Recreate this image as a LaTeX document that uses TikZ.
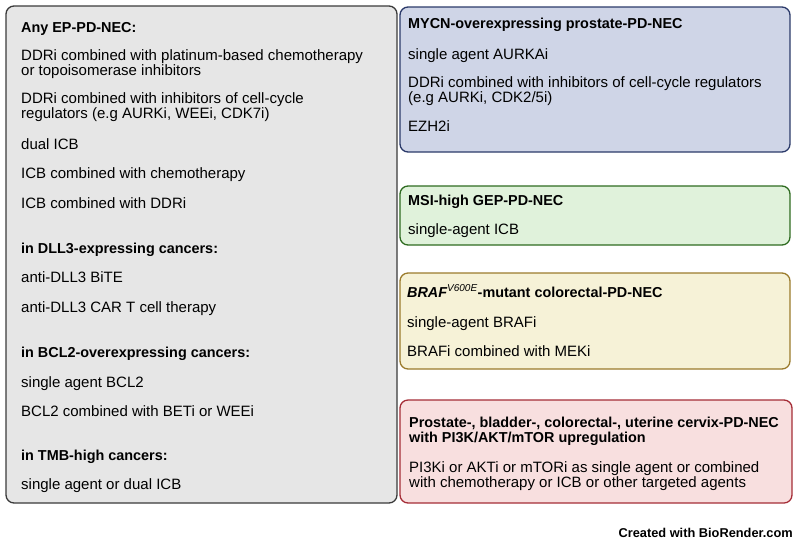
\documentclass[tikz,border=0pt]{standalone}
\usepackage{fontspec}
\setmainfont{Liberation Sans}
\definecolor{greyfill}{HTML}{E6E6E6}
\definecolor{greyline}{HTML}{3A3A3A}
\definecolor{bluefill}{HTML}{CFD5E7}
\definecolor{blueline}{HTML}{2B3A6A}
\definecolor{greenfill}{HTML}{E0F2DB}
\definecolor{greenline}{HTML}{2E6B20}
\definecolor{yellowfill}{HTML}{F6F2D7}
\definecolor{yellowline}{HTML}{9B7B2C}
\definecolor{redfill}{HTML}{F8DFDF}
\definecolor{redline}{HTML}{A52D37}
\begin{document}
\begin{tikzpicture}
[x=1pt,y=-1pt,
txt/.style={anchor=base west,inner sep=0pt,align=left,font=\fontsize{15}{15}\selectfont},
hd/.style={txt,font=\fontsize{14.4}{15}\selectfont\bfseries},
panel/.style={rounded corners=8pt,line width=1.3pt}]
\useasboundingbox (0,0) rectangle (800,542);
\filldraw[panel,draw=greyline,fill=greyfill] (6,6) rectangle (397,503);
\filldraw[panel,draw=blueline,fill=bluefill] (400,7) rectangle (790,152);
\filldraw[panel,draw=greenline,fill=greenfill] (400,186) rectangle (790,245);
\filldraw[panel,draw=yellowline,fill=yellowfill] (400,273) rectangle (790,369);
\filldraw[panel,draw=redline,fill=redfill] (400,400) rectangle (792,503);
\node[hd] (anyhd) at (21,32) {Any EP-PD-NEC:};
\node[txt] (ddriplat) at (21,75) {DDRi combined with platinum-based chemotherapy\\or topoisomerase inhibitors};
\node[txt] (ddricc) at (21,118) {DDRi combined with inhibitors of cell-cycle\\regulators (e.g AURKi, WEEi, CDK7i)};
\node[txt] (dualicb) at (21,149) {dual ICB};
\node[txt] (icbchemo) at (21,178) {ICB combined with chemotherapy};
\node[txt] (icbddri) at (21,208) {ICB combined with DDRi};
\node[hd] (dllhd) at (21,253) {in DLL3-expressing cancers:};
\node[txt] (bite) at (21,282) {anti-DLL3 BiTE};
\node[txt] (cart) at (21,312) {anti-DLL3 CAR T cell therapy};
\node[hd] (bclhd) at (21,357) {in BCL2-overexpressing cancers:};
\node[txt] (bclsingle) at (21,387) {single agent BCL2};
\node[txt] (bclcomb) at (21,416) {BCL2 combined with BETi or WEEi};
\node[hd] (tmbhd) at (21,460) {in TMB-high cancers:};
\node[txt] (tmbicb) at (21,489) {single agent or dual ICB};
\node[hd] (mycnhd) at (408,28) {MYCN-overexpressing prostate-PD-NEC};
\node[txt] (aurka) at (408,59) {single agent AURKAi};
\node[txt] (mycncc) at (408,102) {DDRi combined with inhibitors of cell-cycle regulators\\(e.g AURKi, CDK2/5i)};
\node[txt] (ezh) at (408,131) {EZH2i};
\node[hd] (msihd) at (408,205) {MSI-high GEP-PD-NEC};
\node[txt] (msiicb) at (408,234) {single-agent ICB};
\node[hd] (brafhd) at (407,297) {\itshape BRAF\textsuperscript{\mdseries V600E}\upshape-mutant colorectal-PD-NEC};
\node[txt] (brafi) at (407,327) {single-agent BRAFi};
\node[txt] (mek) at (407,356) {BRAFi combined with MEKi};
\node[hd] (pikhd) at (409,442) {Prostate-, bladder-, colorectal-, uterine cervix-PD-NEC\\with PI3K/AKT/mTOR upregulation};
\node[txt] (pikagents) at (409,487) {PI3Ki or AKTi or mTORi as single agent or combined\\with chemotherapy or ICB or other targeted agents};
\node[anchor=base east,inner sep=0pt,font=\fontsize{12.8}{13}\selectfont\bfseries] (credit) at (793,537) {Created with BioRender.com};
\end{tikzpicture}
\end{document}
